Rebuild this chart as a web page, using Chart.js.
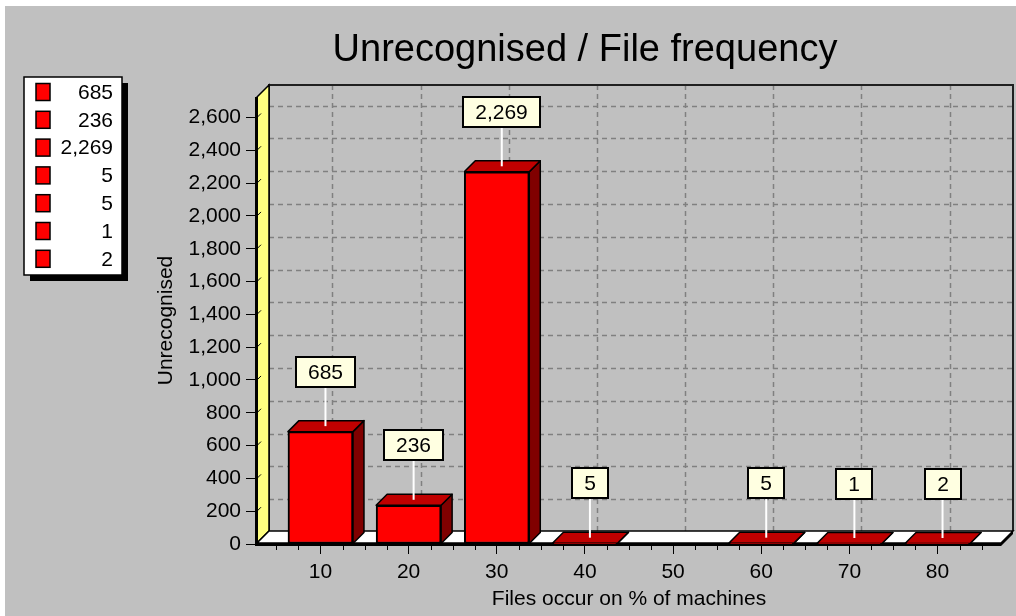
<!DOCTYPE html>
<html><head><meta charset="utf-8">
<script src="https://cdn.jsdelivr.net/npm/chart.js@4.4.1/dist/chart.umd.min.js"></script>
<style>html,body{margin:0;padding:0;background:#fff;overflow:hidden}canvas{display:block}</style>
</head><body>
<canvas id="c" width="1016" height="616"></canvas>
<script>
// ---- data ----
const categories = [10, 20, 30, 40, 50, 60, 70, 80];
const values = [685, 236, 2269, 5, null, 5, 1, 2];
const yTicks = [0, 200, 400, 600, 800, 1000, 1200, 1400, 1600, 1800, 2000, 2200, 2400, 2600];
const chartTitle = 'Unrecognised / File frequency';
const xTitle = 'Files occur on % of machines';
const yTitle = 'Unrecognised';

const FAMILY = "'Liberation Sans', Arial, sans-serif";
const font21 = { family: FAMILY, size: 21 };
const fmt = v => Number(v).toLocaleString('en-US');
const points = categories.map((c, i) => ({ x: c, y: values[i] })).filter(p => p.y !== null);

const D = 12;   // wall depth
const BD = 11;  // bar depth

function poly(ctx, pts, fill, stroke, lw) {
  ctx.beginPath();
  ctx.moveTo(pts[0][0], pts[0][1]);
  for (let i = 1; i < pts.length; i++) ctx.lineTo(pts[i][0], pts[i][1]);
  ctx.closePath();
  if (fill) { ctx.fillStyle = fill; ctx.fill(); }
  if (stroke) { ctx.strokeStyle = stroke; ctx.lineWidth = lw || 1; ctx.stroke(); }
}
function line(ctx, x1, y1, x2, y2) {
  ctx.beginPath(); ctx.moveTo(x1, y1); ctx.lineTo(x2, y2); ctx.stroke();
}

const threeD = {
  id: 'threeD',
  beforeDraw(chart) {
    const { ctx, chartArea: a, scales: { x, y } } = chart;
    const L = a.left, R = a.right, T = a.top, B = 543;
    ctx.save();
    ctx.fillStyle = '#fff'; ctx.fillRect(0, 0, chart.width, chart.height);
    ctx.fillStyle = '#C0C0C0'; ctx.fillRect(5, 6, chart.width - 5, chart.height - 6);
    // back wall grid
    ctx.strokeStyle = '#808080'; ctx.lineWidth = 1.5; ctx.setLineDash([5, 4]);
    yTicks.forEach(v => {
      if (v === 0) return;
      const py = Math.round(y.getPixelForValue(v)) - D + 0.5;
      line(ctx, L + D, py, R + D, py);
    });
    categories.forEach(c => {
      const px = Math.round(x.getPixelForValue(c)) + D + 0.5;
      line(ctx, px, T - D, px, B - D);
    });
    ctx.setLineDash([]);
    // back wall border
    ctx.strokeStyle = '#202020'; ctx.lineWidth = 2;
    ctx.beginPath();
    ctx.moveTo(L + D, B - D); ctx.lineTo(L + D, T - D); ctx.lineTo(R + D, T - D); ctx.lineTo(R + D, B - D);
    ctx.stroke();
    // left wall
    poly(ctx, [[L, T], [L + D, T - D], [L + D, B - D], [L, B]], '#FFFF80', '#000', 1.5);
    // depth tick marks on left wall
    ctx.strokeStyle = '#000'; ctx.lineWidth = 1;
    yTicks.forEach(v => {
      const py = y.getPixelForValue(v);
      line(ctx, L, py, L + 4, py - 4);
    });
    ctx.lineWidth = 3; line(ctx, L - 0.5, T, L - 0.5, B + 3);
    // floor
    poly(ctx, [[L, B], [L + D, B - D], [R + D, B - D], [R, B]], '#fff', '#000', 1.5);
    poly(ctx, [[L, B], [R, B], [R + D, B - D], [R + D, B - D + 3], [R, B + 3], [L, B + 3]], '#000');
    // minor x ticks
    ctx.lineWidth = 1; ctx.strokeStyle = '#000';
    for (let v = 5; v <= 85; v += 2.5) {
      if (v % 10 === 0) continue;
      const px = Math.round(x.getPixelForValue(v)) + 0.5;
      line(ctx, px, B + 3, px, B + 7);
    }
    ctx.restore();
  },
  beforeDatasetsDraw(chart) {
    const { ctx } = chart;
    const meta = chart.getDatasetMeta(0);
    ctx.save();
    ctx.lineJoin = 'round';
    meta.data.forEach(bar => {
      const p = bar.getProps(['x', 'y', 'base', 'width'], true);
      const x1 = p.x - p.width / 2, x2 = p.x + p.width / 2;
      const top = Math.min(p.y, p.base), base = p.base;
      poly(ctx, [[x2, top], [x2 + BD, top - BD], [x2 + BD, base - BD], [x2, base]], '#800000', '#000', 1.5);
      poly(ctx, [[x1, top], [x1 + BD, top - BD], [x2 + BD, top - BD], [x2, top]], '#C00000', '#000', 1.5);
    });
    ctx.restore();
  },
  afterDatasetsDraw(chart) {
    const { ctx } = chart;
    const meta = chart.getDatasetMeta(0);
    ctx.save();
    ctx.font = "21px " + FAMILY;
    meta.data.forEach((bar, i) => {
      const lbl = fmt(points[i].y);
      const cx = bar.x + 5;
      const top = Math.min(bar.y, bar.base);
      const tw = ctx.measureText(lbl).width;
      const bw = Math.round(tw + 24), bh = 30;
      const bb = Math.round(top - 45), bt = bb - bh;
      const bx = Math.round(cx - bw / 2);
      ctx.strokeStyle = '#fff'; ctx.lineWidth = 2;
      line(ctx, cx, bb, cx, top - 5.5);
      ctx.fillStyle = '#FFFFE1'; ctx.fillRect(bx, bt, bw, bh);
      ctx.strokeStyle = '#000'; ctx.lineWidth = 2; ctx.strokeRect(bx, bt, bw, bh);
      ctx.fillStyle = '#000'; ctx.textAlign = 'center'; ctx.textBaseline = 'middle';
      ctx.fillText(lbl, bx + bw / 2, bt + bh / 2 + 1);
    });
    ctx.restore();
  },
  afterDraw(chart) {
    const { ctx } = chart;
    ctx.save();
    // title
    ctx.font = "38px " + FAMILY;
    ctx.fillStyle = '#000'; ctx.textAlign = 'center'; ctx.textBaseline = 'alphabetic';
    ctx.fillText(chartTitle, 585, 61);
    // legend
    const lx = 24, ly = 77, lw = 98, lh = 198;
    ctx.fillStyle = '#000'; ctx.fillRect(lx + 6, ly + 6, lw, lh);
    ctx.fillStyle = '#fff'; ctx.fillRect(lx, ly, lw, lh);
    ctx.strokeStyle = '#000'; ctx.lineWidth = 1.5; ctx.strokeRect(lx, ly, lw, lh);
    ctx.font = "21px " + FAMILY; ctx.textAlign = 'right'; ctx.textBaseline = 'middle';
    points.forEach((p, i) => {
      const cy = 92 + i * 27.8;
      ctx.fillStyle = '#FF0000'; ctx.fillRect(36, cy - 8.5, 14, 17);
      ctx.strokeStyle = '#000'; ctx.lineWidth = 1.5; ctx.strokeRect(36, cy - 8.5, 14, 17);
      ctx.fillStyle = '#000'; ctx.fillText(fmt(p.y), 113, cy + 1);
    });
    ctx.restore();
  }
};

new Chart(document.getElementById('c'), {
  type: 'bar',
  data: {
    datasets: [{
      data: points,
      backgroundColor: '#FF0000',
      borderColor: '#000',
      borderWidth: 2,
      borderSkipped: false,
      barThickness: 65
    }]
  },
  options: {
    responsive: false, animation: false, devicePixelRatio: 1,
    layout: { padding: { left: 154, right: 15, top: 97, bottom: 0 } },
    plugins: { legend: { display: false }, tooltip: { enabled: false }, title: { display: false } },
    scales: {
      x: {
        type: 'linear', min: 2.8, max: 87.2, offset: false,
        afterBuildTicks: s => { s.ticks = categories.map(v => ({ value: v })); },
        afterFit: s => { s.height = 72; },
        grid: { offset: false, drawOnChartArea: false, drawTicks: true, tickLength: 10, color: '#000', lineWidth: 1 },
        border: { display: false },
        ticks: { padding: 6, color: '#000', font: font21, maxRotation: 0, autoSkip: false, callback: v => String(v) },
        title: { display: true, text: xTitle, color: '#000', font: font21, padding: { top: 0, bottom: 4 } }
      },
      y: {
        min: 0, max: 2725,
        afterBuildTicks: s => { s.ticks = yTicks.map(v => ({ value: v })); },
        afterFit: s => { s.width = 103; },
        grid: { drawOnChartArea: false, drawTicks: true, tickLength: 11, color: '#000', lineWidth: 1 },
        border: { display: false },
        ticks: { padding: 5, color: '#000', font: font21, autoSkip: false, callback: v => fmt(v) },
        title: { display: true, text: yTitle, color: '#000', font: font21, padding: { top: 0, bottom: 0 } }
      }
    }
  },
  plugins: [threeD]
});
</script>
</body></html>
